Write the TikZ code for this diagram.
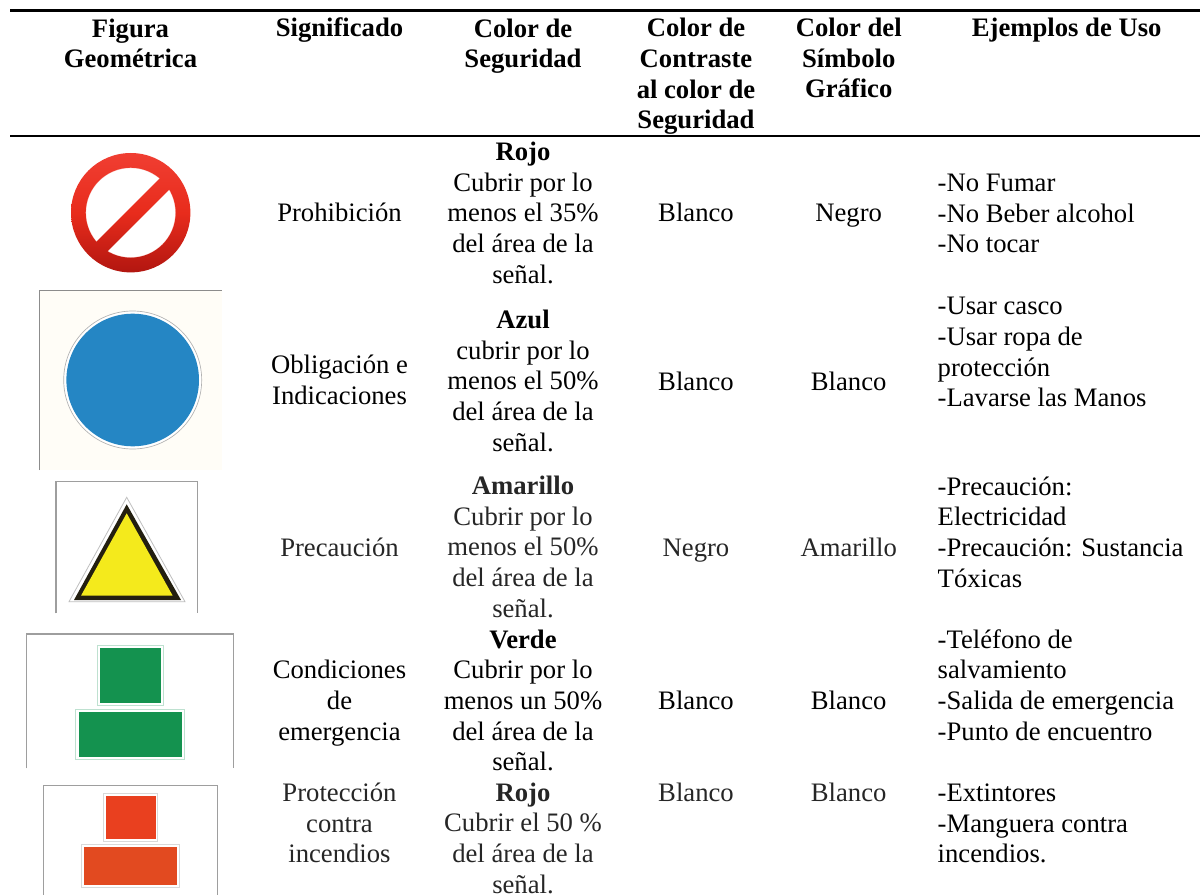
\documentclass[tikz,border=0pt]{standalone}
\usepackage{fontspec}
\setmainfont{Liberation Serif}
\definecolor{ringtop}{RGB}{240,62,50}
\definecolor{ringmid}{RGB}{232,44,28}
\definecolor{ringbot}{RGB}{178,22,16}
\definecolor{paper}{RGB}{255,253,247}
\begin{document}
\begin{tikzpicture}[x=0.75pt,y=-0.75pt,
  cell/.style={inner sep=0pt,outer sep=0pt,anchor=base,align=center,font=\fontsize{20}{23}\selectfont,text=black},
  left cell/.style={cell,align=left,anchor=base west},
  soft/.style={text=black!85},
  hd/.style={cell,font=\fontsize{20}{23}\selectfont\bfseries},
  frame/.style={draw=black!38,line width=1.1pt},
  rule/.style={draw=black,line width=1.7pt},
  ringshade/.style={top color=ringtop,bottom color=ringbot,middle color=ringmid}]
\useasboundingbox (0,0) rectangle (1200,895);
\fill[white] (0,0) rectangle (1200,895);
% rules
\coordinate (t0) at (10,10.5); \coordinate (t1) at (1200,10.5);
\coordinate (b0) at (10,136); \coordinate (b1) at (1200,136);
\draw[rule] (t0) -- (t1);
\draw[rule] (b0) -- (b1);
% header (a node's y is the baseline of its last line)
\node[hd] (h1) at (130.5,67.7) {Figura\\Geométrica};
\node[hd] (h2) at (339.5,36.7) {Significado};
\node[hd] (h3) at (523,67.7) {Color de\\Seguridad};
\node[hd] (h4) at (696,128.7) {Color de\\Contraste\\al color de\\Seguridad};
\node[hd] (h5) at (848.7,98) {Color del\\Símbolo\\Gráfico};
\node[hd] (h6) at (1066.7,36.7) {Ejemplos de Uso};
% row 1
\node[cell] (r1b) at (339.5,221.7) {Prohibición};
\node[cell] (r1c) at (523,283.3) {\textbf{Rojo}\\Cubrir por lo\\menos el 35\%\\del área de la\\señal.};
\node[cell] (r1d) at (696,221.7) {Blanco};
\node[cell] (r1e) at (848.7,221.7) {Negro};
\node[left cell] (r1f) at (937.7,252.7) {-No Fumar\\-No Beber alcohol\\-No tocar};
% row 2
\node[cell] (r2b) at (339.5,404.3) {Obligación e\\Indicaciones};
\node[cell] (r2c) at (523,451) {\textbf{Azul}\\cubrir por lo\\menos el 50\%\\del área de la\\señal.};
\node[cell] (r2d) at (696,390) {Blanco};
\node[cell] (r2e) at (848.7,390) {Blanco};
\node[left cell] (r2f) at (937.7,406.7) {-Usar casco\\-Usar ropa de\\protección\\-Lavarse las Manos};
% row 3
\node[cell,soft] (r3b) at (339.5,556) {Precaución};
\node[cell,soft] (r3c) at (523,617) {\textbf{Amarillo}\\Cubrir por lo\\menos el 50\%\\del área de la\\señal.};
\node[cell,soft] (r3d) at (696,556) {Negro};
\node[cell,soft] (r3e) at (848.7,556) {Amarillo};
\node[left cell] (r3f) at (937.7,587) {-Precaución:\\Electricidad\\-Precaución: Sustancia\\Tóxicas};
% row 4
\node[cell] (r4b) at (339.5,740) {Condiciones\\de\\emergencia};
\node[cell] (r4c) at (523,770.7) {\textbf{Verde}\\Cubrir por lo\\menos un 50\%\\del área de la\\señal.};
\node[cell] (r4d) at (696,709) {Blanco};
\node[cell] (r4e) at (848.7,709) {Blanco};
\node[left cell] (r4f) at (937.7,740) {-Teléfono de\\salvamiento\\-Salida de emergencia\\-Punto de encuentro};
% row 5
\node[cell,soft] (r5b) at (339.5,862.7) {Protección\\contra\\incendios};
\node[cell,soft] (r5c) at (523,893.3) {\textbf{Rojo}\\Cubrir el 50 \%\\del área de la\\señal.};
\node[cell,soft] (r5d) at (696,801.7) {Blanco};
\node[cell,soft] (r5e) at (848.7,801.7) {Blanco};
\node[left cell] (r5f) at (937.7,862.7) {-Extintores\\-Manguera contra\\incendios.};
% prohibition sign
\draw[draw=ringtop!35!white,line width=0.9pt] (130.7,212.7) circle[radius=45.2];
\shade[even odd rule,ringshade] (130.7,212.7) circle[radius=59.7] (130.7,212.7) circle[radius=45];
\begin{scope}
\clip (130.7,212.7) circle[radius=58];
\clip (176.26,172.3) -- (171.1,167.1) -- (85.1,253.1) -- (90.26,258.3) -- (95.4,263.4) -- (181.4,177.4) -- cycle;
\shade[ringshade] (71,153) rectangle (190.4,272.4);
\end{scope}
% blue sign
\fill[fill=paper] (39.5,290.7) rectangle (221.7,470);
\draw[frame,draw=black!45] (39.5,470) -- (39.5,290.7) -- (221.7,290.7);
\draw[draw=black!30,fill=white,line width=0.5pt] (132.7,380) circle[radius=69];
\fill[fill={rgb,255:red,37;green,134;blue,196}] (132.7,380) circle[radius=66.3];
% triangle sign
\draw[frame] (56,613.3) -- (56,481.3) -- (197.3,481.3) -- (197.3,613.3);
\draw[draw=black!25,fill=white,line width=0.6pt] (126.7,497.3) -- (69,601.7) -- (185,601.7) -- cycle;
\fill[fill={rgb,255:red,35;green,31;blue,16}] (126.7,504.3) -- (74,600) -- (181,600) -- cycle;
\fill[fill={rgb,255:red,244;green,234;blue,28}] (126.7,513.3) -- (81,595.7) -- (172.7,595.7) -- cycle;
% green sign
\draw[frame] (26.7,768.3) -- (26.7,634) -- (233.3,634) -- (233.3,768.3);
\draw[draw={rgb,255:red,190;green,225;blue,208},line width=0.7pt] (97,645) rectangle (163,705.3);
\fill[fill={rgb,255:red,20;green,146;blue,79}] (99.7,647.7) rectangle (160.7,702.7);
\draw[draw={rgb,255:red,190;green,225;blue,208},line width=0.7pt] (75.3,709) rectangle (184.7,759.3);
\fill[fill={rgb,255:red,20;green,146;blue,79}] (78.7,712) rectangle (181.7,756.7);
% red sign
\draw[frame] (43.7,895) -- (43.7,785.3) -- (217.7,785.3) -- (217.7,895);
\draw[draw=black!15,line width=0.7pt] (103.3,793) rectangle (157.7,841.3);
\fill[fill={rgb,255:red,233;green,64;blue,31}] (106,795.7) rectangle (155.7,839.3);
\draw[draw=black!15,line width=0.7pt] (81.7,844) rectangle (179.3,887.3);
\fill[fill={rgb,255:red,226;green,74;blue,32}] (84.3,846.7) rectangle (177,885);
\end{tikzpicture}
\end{document}
